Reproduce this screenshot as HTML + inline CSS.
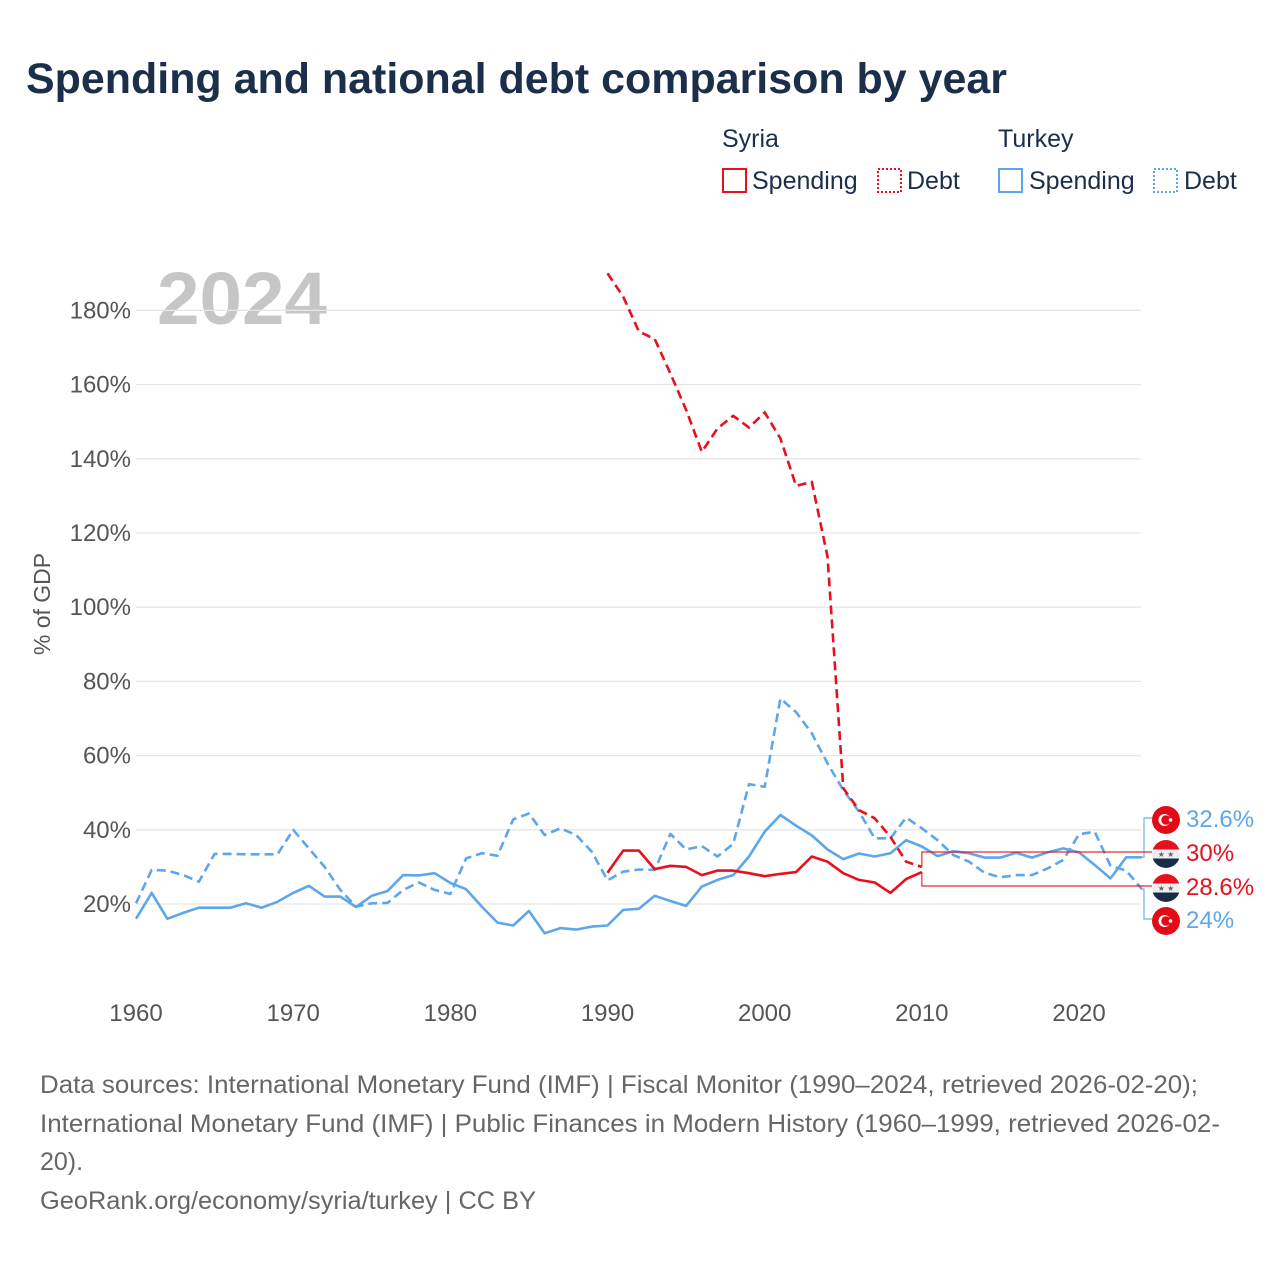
<!DOCTYPE html>
<html><head><meta charset="utf-8"><style>
body{margin:0;background:#fff;width:1280px;height:1280px;overflow:hidden;font-family:"Liberation Sans",sans-serif;}
svg{position:absolute;left:0;top:0}
</style></head><body>
<svg id="chart" width="1280" height="1280" viewBox="0 0 1280 1280">
<text x="26" y="93" font-size="43" font-weight="bold" fill="#1b2f4b" textLength="981" lengthAdjust="spacingAndGlyphs">Spending and national debt comparison by year</text>
<g font-size="25" fill="#1b2f4b">
<text x="722" y="147">Syria</text>
<rect x="723" y="169" width="23" height="23" fill="none" stroke="#e8101e" stroke-width="2"/>
<text x="752" y="189">Spending</text>
<rect x="878" y="169" width="23" height="23" fill="none" stroke="#e8101e" stroke-width="2" stroke-dasharray="2,2"/>
<text x="907" y="189">Debt</text>
<text x="998" y="147">Turkey</text>
<rect x="999" y="169" width="23" height="23" fill="none" stroke="#5ea6ea" stroke-width="2"/>
<text x="1029" y="189">Spending</text>
<rect x="1154" y="169" width="23" height="23" fill="none" stroke="#5ea6ea" stroke-width="2" stroke-dasharray="2,2"/>
<text x="1184" y="189">Debt</text>
</g>
<text x="157" y="324" font-size="74" font-weight="bold" fill="#c6c6c6" textLength="170" lengthAdjust="spacingAndGlyphs">2024</text>
<text transform="translate(50,604) rotate(-90)" text-anchor="middle" font-size="23" fill="#555">% of GDP</text>
<g id="grid"></g><g id="series"></g><g id="labels"></g>
<g font-size="25" fill="#666">
<text x="40" y="1093" textLength="1158" lengthAdjust="spacingAndGlyphs">Data sources: International Monetary Fund (IMF) | Fiscal Monitor (1990–2024, retrieved 2026-02-20);</text>
<text x="40" y="1132" textLength="1180" lengthAdjust="spacingAndGlyphs">International Monetary Fund (IMF) | Public Finances in Modern History (1960–1999, retrieved 2026-02-</text>
<text x="40" y="1170">20).</text>
<text x="40" y="1209" textLength="496" lengthAdjust="spacingAndGlyphs">GeoRank.org/economy/syria/turkey | CC BY</text>
</g>
</svg>
<script>
const yTicks=[20,40,60,80,100,120,140,160,180];
const xTicks=[1960,1970,1980,1990,2000,2010,2020];
const turkeyYears0=1960;
const turkeySpending=[16,23,16,17.6,19,19,19,20.2,19,20.6,23,24.9,22,22,19.2,22.2,23.5,27.8,27.7,28.3,25.7,24,19.3,15,14.2,18.1,12.1,13.5,13.1,13.9,14.2,18.4,18.7,22.2,20.8,19.5,24.7,26.5,27.8,32.8,39.5,44,41.1,38.5,34.7,32.1,33.6,32.8,33.7,37.2,35.5,32.9,34.2,33.7,32.5,32.5,33.8,32.5,33.9,35,33.9,30.5,26.9,32.6,32.6];
const turkeyDebt=[20.2,29.2,29,27.8,26,33.5,33.5,33.4,33.4,33.4,40,35,30,23.8,19.3,20.2,20.3,23.8,25.8,23.8,22.7,32.3,33.7,33,42.8,44.4,38.6,40.4,38.6,34.1,26.4,28.7,29.3,29.2,38.9,34.7,35.6,32.8,36.2,52.3,51.6,75.4,71.7,66,57.9,50.7,44.9,37.7,37.7,43.3,40.4,37.2,33.2,31.4,28.4,27.2,27.8,27.8,29.6,31.9,38.8,39.5,30.3,29,24];
const syriaYears0=1990;
const syriaSpending=[28.4,34.4,34.4,29.4,30.3,30,27.8,29,29,28.3,27.5,28.1,28.6,32.8,31.4,28.3,26.5,25.8,23,26.7,28.6];
const syriaDebt=[190,183.7,174.3,172.3,163,153.2,141.9,148.2,151.6,148.4,152.5,145.5,132.7,133.8,113.6,51.2,45.3,43.1,38.1,31.4,30];
const X=yr=>136+(yr-1960)*15.717;
const Y=v=>978.2-3.71*v;
const NS='http://www.w3.org/2000/svg';
function mk(tag,attrs,parent,txt){const e=document.createElementNS(NS,tag);for(const k in attrs)e.setAttribute(k,attrs[k]);if(txt!==undefined)e.textContent=txt;parent.appendChild(e);return e;}
const grid=document.getElementById('grid');
yTicks.forEach(t=>{
 const l=mk('line',{x1:136,x2:1141,y1:Y(t),y2:Y(t),stroke:'#e6e6e6','stroke-width':1.3},grid);
 
 
 const tx=mk('text',{x:131,y:Y(t)+8,'text-anchor':'end','font-size':24,fill:'#555'},grid,t+'%');
 
 
});
xTicks.forEach(t=>{
 const tx=mk('text',{x:X(t),y:1021,'text-anchor':'middle','font-size':24,fill:'#555'},grid,String(t));
 
 
});
const ser=document.getElementById('series');
function line(vals,y0,color,dash,name){
 const d=vals.map((v,i)=>(i?'L':'M')+X(y0+i).toFixed(1)+','+Y(v).toFixed(1)).join('');
 const p=mk('path',{d:d,fill:'none',stroke:color,'stroke-width':2.6,'stroke-linejoin':'round'},ser);
 if(dash)p.setAttribute('stroke-dasharray','9,5');
 
 
}
const BLUE='#5ea6ea',RED='#e8101e';
line(turkeyDebt,turkeyYears0,BLUE,true,'turkey-debt-line');
line(turkeySpending,turkeyYears0,BLUE,false,'turkey-spending-line');
line(syriaDebt,syriaYears0,RED,true,'syria-debt-line');
line(syriaSpending,syriaYears0,RED,false,'syria-spending-line');
const lab=document.getElementById('labels');
const tEnd=X(2024), sEnd=X(2010);
const items=[
 {v:turkeySpending[turkeySpending.length-1],ly:818,c:BLUE,flag:'tr',from:tEnd,name:'turkey-spending-end-label'},
 {v:syriaDebt[syriaDebt.length-1],ly:852,c:RED,flag:'sy',from:sEnd,name:'syria-debt-end-label'},
 {v:syriaSpending[syriaSpending.length-1],ly:886,c:RED,flag:'sy',from:sEnd,name:'syria-spending-end-label'},
 {v:turkeyDebt[turkeyDebt.length-1],ly:919,c:BLUE,flag:'tr',from:tEnd,name:'turkey-debt-end-label'}
];
items.forEach(it=>{
 const g=mk('g',{},lab);
 
 
 const vy=Y(it.v);
 const bx=it.c===BLUE?1144:sEnd;
 mk('polyline',{points:`${it.from},${vy} ${bx},${vy} ${bx},${it.ly} 1152,${it.ly}`,fill:'none',stroke:it.c,'stroke-width':1.2,opacity:0.9},g);
 const cx=1166,cy=it.ly+2;
 if(it.flag==='tr'){
  mk('circle',{cx:cx,cy:cy,r:14,fill:'#e30a17'},g);
  mk('circle',{cx:cx-1.5,cy:cy,r:6,fill:'#fff'},g);
  mk('circle',{cx:cx,cy:cy,r:4.8,fill:'#e30a17'},g);
  mk('circle',{cx:cx+4.5,cy:cy,r:1.8,fill:'#fff'},g);
 } else {
  const cp=mk('clipPath',{id:'c'+it.ly},g);
  mk('circle',{cx:cx,cy:cy,r:14},cp);
  const gg=mk('g',{'clip-path':'url(#c'+it.ly+')'},g);
  mk('rect',{x:cx-14,y:cy-14,width:28,height:9.5,fill:'#e8101e'},gg);
  mk('rect',{x:cx-14,y:cy-4.5,width:28,height:9,fill:'#eee'},gg);
  mk('rect',{x:cx-14,y:cy+4.5,width:28,height:10,fill:'#182c48'},gg);
  mk('text',{x:cx,y:cy+3,'text-anchor':'middle','font-size':8,fill:'#666'},gg,'★ ★');
 }
 mk('text',{x:1186,y:it.ly+9,'font-size':24,fill:it.c},g,(Math.round(it.v*10)/10)+'%');
});
</script>
</body></html>
